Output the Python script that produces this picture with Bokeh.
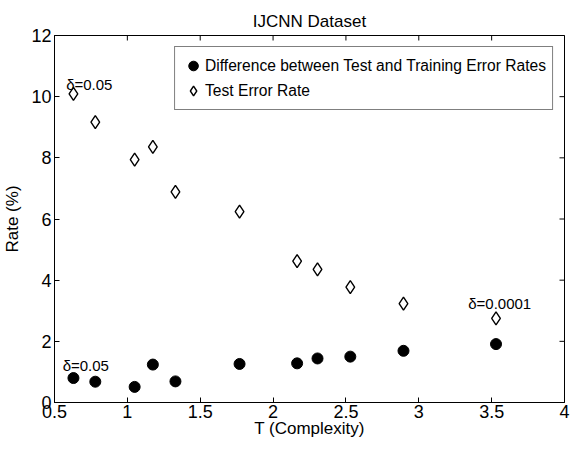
import math
from bokeh.plotting import figure
from bokeh.models import FixedTicker, Range1d
from bokeh.embed import file_html
from bokeh.resources import INLINE
from bokeh.core.properties import value

# ---- data ----
complexity_T = [0.63, 0.78, 1.05, 1.175, 1.33, 1.77, 2.165, 2.305, 2.53, 2.895, 3.53]
diff_rate = [0.80, 0.68, 0.51, 1.24, 0.69, 1.26, 1.28, 1.44, 1.50, 1.69, 1.91]
test_rate = [10.09, 9.17, 7.94, 8.36, 6.89, 6.24, 4.62, 4.35, 3.77, 3.23, 2.75]

x_ticks = [0.5, 1, 1.5, 2, 2.5, 3, 3.5, 4]
x_tick_labels = ["0.5", "1", "1.5", "2", "2.5", "3", "3.5", "4"]
y_ticks = [0, 2, 4, 6, 8, 10, 12]
y_tick_labels = ["0", "2", "4", "6", "8", "10", "12"]

note_x = [0.58, 0.556, 3.339]
note_y = [10.40, 1.20, 3.23]
note_text = ["δ=0.05", "δ=0.05", "δ=0.0001"]

FONT = "Liberation Sans"
x_lo, x_hi = x_ticks[0], x_ticks[-1]
y_lo, y_hi = y_ticks[0], y_ticks[-1]

p = figure(width=570, height=440, output_backend="svg", toolbar_location=None,
           x_range=Range1d(x_lo, x_hi), y_range=Range1d(y_lo, y_hi),
           min_border_left=50, min_border_right=6, min_border_top=35, min_border_bottom=36,
           title="IJCNN Dataset")

p.title.text_font = FONT
p.title.text_font_size = "17px"
p.title.text_font_style = "normal"
p.title.align = "center"
p.title.text_color = "black"

p.grid.visible = False
p.outline_line_color = "black"
p.outline_line_width = 1

def style_axis(ax, ticks, labels):
    ax.ticker = FixedTicker(ticks=ticks)
    ax.major_label_overrides = {(int(t) if float(t).is_integer() else t): l for t, l in zip(ticks, labels)}
    ax.major_tick_in = 5
    ax.major_tick_out = 0
    ax.minor_tick_line_color = None
    ax.axis_line_color = "black"
    ax.major_tick_line_color = "black"
    ax.major_label_text_font = FONT
    ax.major_label_text_color = "black"
    ax.major_label_text_font_size = "18px"
    ax.major_label_standoff = 2
    ax.axis_label_text_font = FONT
    ax.axis_label_text_font_size = "17px"
    ax.axis_label_text_font_style = "normal"
    ax.axis_label_text_color = "black"

style_axis(p.xaxis[0], x_ticks, x_tick_labels)
style_axis(p.yaxis[0], y_ticks, y_tick_labels)
p.yaxis[0].major_label_standoff = 3
p.xaxis[0].axis_label = "T (Complexity)"
p.xaxis[0].axis_label_standoff = -2
p.yaxis[0].axis_label = "Rate (%)"
p.yaxis[0].axis_label_standoff = 6

# mirrored inward ticks on the top and right edges (clipped to the frame)
p.scatter(x=x_ticks, y=[y_hi] * len(x_ticks), marker="dash", angle=math.pi / 2,
          size=10, line_color="black", line_width=1)
p.scatter(x=[x_hi] * len(y_ticks), y=y_ticks, marker="dash",
          size=10, line_color="black", line_width=1)

p.scatter(complexity_T, diff_rate, marker="circle", size=11,
          fill_color="black", line_color="black",
          legend_label="Difference between Test and Training Error Rates")
p.scatter(complexity_T, test_rate, marker="diamond", size=13,
          fill_color="white", line_color="black", line_width=1.4,
          legend_label="Test Error Rate")

p.text(x=note_x, y=note_y, text=note_text, text_font=value(FONT),
       text_font_size=value("15px"), text_baseline="alphabetic", text_align="left",
       text_color="black")

lg = p.legend[0]
lg.location = "top_right"
lg.margin = 11
lg.label_text_font = FONT
lg.label_text_font_size = "15.6px"
lg.label_text_color = "black"
lg.glyph_width = 24
lg.glyph_height = 25
lg.label_height = 20
lg.spacing = 0
lg.padding = 6
lg.label_standoff = 0
lg.border_line_color = "black"
lg.border_line_width = 1
lg.background_fill_alpha = 1

open("out.html", "w").write(file_html(p, INLINE))
